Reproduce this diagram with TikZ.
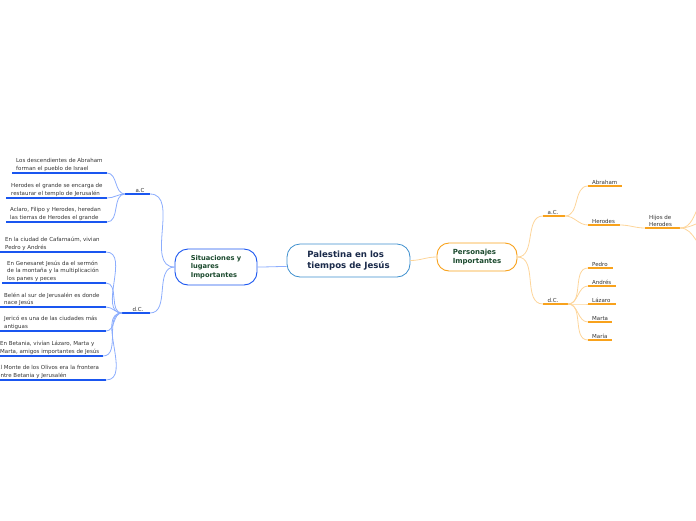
\documentclass[tikz,border=0pt]{standalone}
\usepackage{fontspec}
\setmainfont{DejaVu Sans}
\definecolor{bluedark}{HTML}{1A56F0}
\definecolor{bluelight}{HTML}{8CADFD}
\definecolor{orangedark}{HTML}{F8A21C}
\definecolor{orangelight}{HTML}{FDD59A}
\definecolor{leafgray}{HTML}{333333}
\definecolor{navy}{HTML}{1A2A4A}
\definecolor{dgreen}{HTML}{1B4A2E}
\definecolor{cblue}{HTML}{3D8FCE}
\begin{document}
\begin{tikzpicture}[x=1pt,y=-1pt,
  leaf/.style={anchor=south west, inner sep=0pt, align=left, font=\fontsize{5.5}{7.2}\selectfont, text=leafgray},
  sub/.style={anchor=south, inner sep=0pt, font=\fontsize{5.5}{7.2}\selectfont, text=leafgray},
  bul/.style={draw=bluedark, line width=1.6pt},
  bcon/.style={draw=bluelight, line width=0.8pt},
  oul/.style={draw=orangedark, line width=1.6pt},
  ocon/.style={draw=orangelight, line width=0.8pt},
  central/.style={draw=cblue, line width=0.8pt, fill=white, rounded corners=13pt, minimum width=123pt, minimum height=33pt, align=left, font=\bfseries\fontsize{8.6}{11.5}\selectfont, text=navy, inner sep=0pt},
  mainb/.style={draw=bluedark, line width=0.9pt, fill=white, rounded corners=13pt, minimum width=82pt, minimum height=36pt, align=left, font=\bfseries\fontsize{6.7}{8.5}\selectfont, text=dgreen, inner sep=0pt},
  maino/.style={draw=orangedark, line width=0.9pt, fill=white, rounded corners=12pt, minimum width=80pt, minimum height=28pt, align=left, font=\bfseries\fontsize{7}{8.5}\selectfont, text=dgreen, inner sep=0pt}
]
\useasboundingbox (0,0) rectangle (696,520);

% main nodes
\node[central] (c) at (348.5,260.5) {Palestina en los\\tiempos de Jesús};
\node[mainb] (sit) at (216,267) {Situaciones y\\lugares\\Importantes};
\node[maino] (per) at (477,257) {Personajes\\Importantes};

\draw[bcon] (sit.east) to[out=0,in=180] ([yshift=-6pt]c.west);
\draw[ocon] (c.east) to[out=0,in=180] (per.west);

% left sub topics
\coordinate (laCs) at (125,194); \coordinate (laCe) at (150,194);
\node[sub] (laC) at (140,192.5) {a.C};
\draw[bul] (laCs) -- (laCe);
\coordinate (ldCs) at (122,313); \coordinate (ldCe) at (150,313);
\node[sub] (ldC) at (138,311.5) {d.C.};
\draw[bul] (ldCs) -- (ldCe);
\draw[bcon] (sit.west) to[out=180,in=0] (laCe);
\draw[bcon] (sit.west) to[out=180,in=0] (ldCe);

% left leaves a.C
\node[leaf] (a1) at (16,171.5) {Los descendientes de Abraham\\forman el pueblo de Israel};
\coordinate (a1s) at (12,173); \coordinate (a1e) at (107,173);
\node[leaf] (a2) at (11,196.5) {Herodes el grande se encarga de\\restaurar el templo de Jerusalén};
\coordinate (a2s) at (6,198); \coordinate (a2e) at (107,198);
\node[leaf] (a3) at (10,220.5) {Aclaro, Filipo y Herodes, heredan\\las tierras de Herodes el grande};
\coordinate (a3s) at (6,222); \coordinate (a3e) at (107,222);
\foreach \i in {1,2,3}{
  \draw[bul] (a\i s) -- (a\i e);
  \draw[bcon] (a\i e) to[out=0,in=180] (laCs);
}

% left leaves d.C.
\node[leaf] (d1) at (5,250.5) {En la ciudad de Cafarnaúm, vivian\\Pedro y Andrés};
\coordinate (d1s) at (0,252); \coordinate (d1e) at (106,252);
\node[leaf] (d2) at (7,281.5) {En Genesaret Jesús da el sermón\\de la montaña y la multiplicación\\los panes y peces};
\coordinate (d2s) at (2,283); \coordinate (d2e) at (106,283);
\node[leaf] (d3) at (4,305.5) {Belén al sur de Jerusalén es donde\\nace Jesús};
\coordinate (d3s) at (0,307); \coordinate (d3e) at (106,307);
\node[leaf] (d4) at (4,329.5) {Jericó es una de las ciudades más\\antiguas};
\coordinate (d4s) at (0,331); \coordinate (d4e) at (106,331);
\node[leaf] (d5) at (0,354.5) {En Betania, vivían Lázaro, Marta y\\Marta, amigos importantes de Jesús};
\coordinate (d5s) at (0,356); \coordinate (d5e) at (103,356);
\node[leaf] (d6) at (-3,378.5) {El Monte de los Olivos era la frontera\\entre Betania y Jerusalén};
\coordinate (d6s) at (0,380); \coordinate (d6e) at (106,380);
\foreach \i in {1,...,6}{
  \draw[bul] (d\i s) -- (d\i e);
  \draw[bcon] (d\i e) to[out=0,in=180] (ldCs);
}

% right sub topics
\coordinate (raCs) at (543,216); \coordinate (raCe) at (565,216);
\node[sub] (raC) at (553,214.5) {a.C.};
\draw[oul] (raCs) -- (raCe);
\coordinate (rdCs) at (543,304); \coordinate (rdCe) at (568,304);
\node[sub] (rdC) at (553,302.5) {d.C.};
\draw[oul] (rdCs) -- (rdCe);
\draw[ocon] (per.east) to[out=0,in=180] (raCs);
\draw[ocon] (per.east) to[out=0,in=180] (rdCs);

% a.C. leaves
\node[leaf] (ab) at (592,184.5) {Abraham};
\coordinate (abs) at (588,186); \coordinate (abe) at (622,186);
\node[leaf] (he) at (592,223.5) {Herodes};
\coordinate (hes) at (588,225); \coordinate (hee) at (620,225);
\draw[oul] (abs) -- (abe);
\draw[oul] (hes) -- (hee);
\draw[ocon] (raCe) to[out=0,in=180] (abs);
\draw[ocon] (raCe) to[out=0,in=180] (hes);

\node[leaf] (hi) at (649,226.5) {Hijos de\\Herodes};
\coordinate (his) at (645,228); \coordinate (hie) at (680,228);
\draw[oul] (his) -- (hie);
\draw[ocon] (hee) to[out=0,in=180] (his);
\coordinate (o1) at (712,196); \coordinate (o2) at (712,220); \coordinate (o3) at (712,252);
\draw[ocon] (hie) to[out=0,in=180] (o1);
\draw[ocon] (hie) to[out=0,in=180] (o2);
\draw[ocon] (hie) to[out=0,in=180] (o3);

% d.C. leaves
\node[leaf] (p1) at (592,266.5) {Pedro};
\coordinate (p1s) at (588,268); \coordinate (p1e) at (613,268);
\node[leaf] (p2) at (592,284.5) {Andrés};
\coordinate (p2s) at (588,286); \coordinate (p2e) at (616,286);
\node[leaf] (p3) at (592,302.5) {Lázaro};
\coordinate (p3s) at (588,304); \coordinate (p3e) at (616,304);
\node[leaf] (p4) at (592,320.5) {Marta};
\coordinate (p4s) at (588,322); \coordinate (p4e) at (612,322);
\node[leaf] (p5) at (592,338.5) {María};
\coordinate (p5s) at (588,340); \coordinate (p5e) at (612,340);
\foreach \i in {1,...,5}{
  \draw[oul] (p\i s) -- (p\i e);
  \draw[ocon] (rdCe) to[out=0,in=180] (p\i s);
}
\end{tikzpicture}
\end{document}
